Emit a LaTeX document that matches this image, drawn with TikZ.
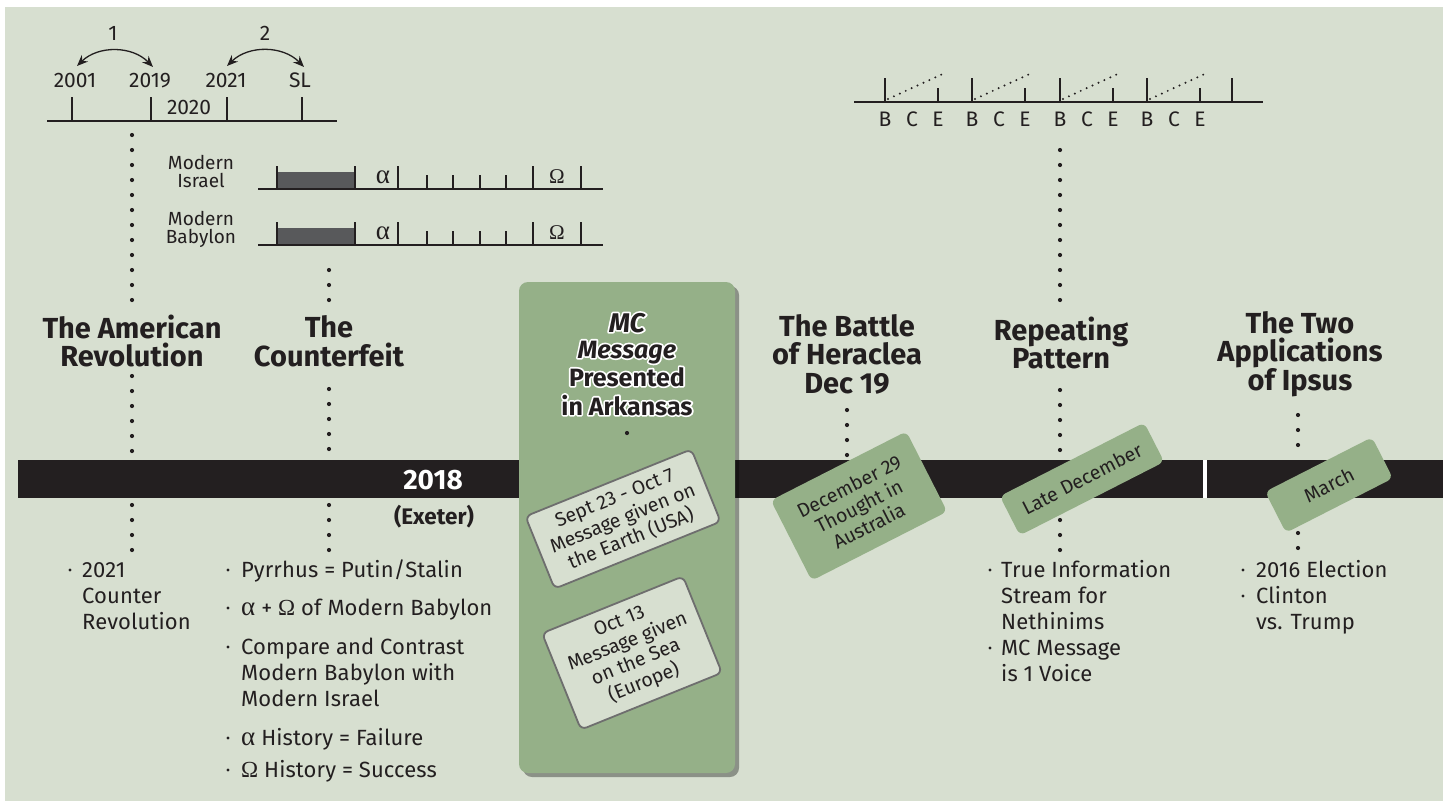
\documentclass[tikz,border=0pt]{standalone}
\usepackage{fontspec}
\setmainfont{Fira Sans}
\newfontfamily\grk{Liberation Serif}
\usetikzlibrary{arrows.meta}
\definecolor{bg}{HTML}{D7DFD0}
\definecolor{grn}{HTML}{95B088}
\definecolor{ink}{HTML}{231F20}
\definecolor{dbox}{HTML}{58595B}
\definecolor{edge}{HTML}{6E6E6E}
\newcommand\fsz[2]{\fontsize{#1}{#2}\selectfont}
\newcommand\halo[1]{\leavevmode\rlap{\special{pdf:literal direct 1 Tr 3.4 w 1 j}\textcolor{white}{#1}\special{pdf:literal direct 0 Tr}}#1}
\begin{document}
\begin{tikzpicture}[x=1pt,y=-1pt,
  txt/.style={inner sep=0pt,text=ink},
  head/.style={txt,font=\fsz{29}{28.5}\bfseries,align=center},
  body/.style={txt,font=\fsz{22}{26}\addfontfeature{LetterSpace=0.5},align=left,anchor=north west},
  small/.style={txt,font=\fsz{21}{21},anchor=base},
  lbl/.style={txt,font=\fsz{19}{19},anchor=base},
  dotline/.style={draw=ink,line width=4.2pt,line cap=round,dash pattern=on 0pt off 15pt},
  axis/.style={draw=ink,line width=2pt},
  tk/.style={draw=ink,line width=1.2pt},
  tkb/.style={draw=ink,line width=2.4pt},
  bul/.style={circle,fill=ink,inner sep=0pt,minimum size=3.4pt},
  glabel/.style={rectangle,rounded corners=6pt,fill=grn,rotate=27,align=center,font=\fsz{19.5}{22},text=ink,inner sep=0pt},
  plabel/.style={rectangle,rounded corners=6pt,fill=bg,draw=edge,line width=1.8pt,rotate=22,align=center,font=\fsz{19.5}{22},text=ink,inner sep=0pt},
  garr/.style={draw=ink,line width=1.3pt,{Stealth[length=11pt,width=9pt]}-{Stealth[length=11pt,width=9pt]}}
]
\useasboundingbox (0,0) rectangle (1443,801);
\fill[bg] (5,7) rectangle (1443,801);

% ---------- top-left timeline ----------
\coordinate (ta) at (47,121); \coordinate (tb) at (337,121);
\draw[axis] (ta) -- (tb);
\foreach \n/\x in {t1/72,t2/151,t3/227,t4/302}{
  \coordinate (\n a) at (\x,97); \coordinate (\n b) at (\x,121);
  \draw[tk] (\n a) -- (\n b);}
\node[small] (y2001) at (75,87) {2001};
\node[small] (y2019) at (150,87) {2019};
\node[small] (y2021) at (226,87) {2021};
\node[small] (ysl) at (300,87) {SL};
\node[small] (y2020) at (189,114) {2020};
\node[small] (n1) at (113,40) {1};
\node[small] (n2) at (265,40) {2};
\coordinate (a1l) at (77,66); \coordinate (a1r) at (153,67);
\coordinate (a2l) at (227,66); \coordinate (a2r) at (304,67);
\draw[garr] (a1l) to[bend left=45] (a1r);
\draw[garr] (a2l) to[bend left=45] (a2r);

% ---------- Modern Israel / Babylon ----------
\foreach \r/\yy/\na/\nb in {isr/189/Modern/Israel,bab/245/Modern/Babylon}{
  \node[lbl] (\r m) at (201,\yy-20) {\na};
  \node[lbl] (\r n) at (201,\yy-2) {\nb};
  \coordinate (\r L) at (258,\yy); \coordinate (\r R) at (603,\yy);
  \fill[dbox] (277,\yy-17) rectangle (355,\yy);
  \draw[axis] (\r L) -- (\r R);
  \foreach \x in {277,355}{\draw[tk] (\x,\yy-23) -- (\x,\yy);}
  \foreach \x in {398,533,581}{\draw[tkb] (\x,\yy-23) -- (\x,\yy);}
  \foreach \x in {427,453,480,506}{\draw[tk] (\x,\yy-14) -- (\x,\yy);}
  \node[txt,font=\grk\fsz{27}{27},anchor=base] (\r a) at (383,\yy-6) {α};
  \node[txt,font=\grk\fsz{21}{21},anchor=base] (\r o) at (557,\yy-6) {Ω};
}

% ---------- top-right BCE ----------
\coordinate (ba) at (854,102); \coordinate (bb) at (1263,102);
\draw[axis] (ba) -- (bb);
\foreach \i/\x in {1/885,2/972,3/1060,4/1147}{
  \draw[tkb] (\x,78) -- (\x,102);
  \draw[tk] (\x+53,88) -- (\x+53,102);
  \coordinate (ds\i) at (\x+3,99); \coordinate (de\i) at (\x+62,72);
  \draw[ink,line width=2.2pt,line cap=round,dash pattern=on 0pt off 6.5pt] (ds\i) -- (de\i);
  \node[small] (B\i) at (\x,126) {B};
  \node[small] (C\i) at (\x+27,126) {C};
  \node[small] (E\i) at (\x+53,126) {E};
}
\draw[tkb] (1232,78) -- (1232,102);

% ---------- black bar ----------
\fill[ink] (18,460) rectangle (1443,498);
\fill[white] (1203,460) rectangle (1207,498);
\node[txt,font=\fsz{28}{28}\bfseries,text=white] (y2018) at (433,480) {2018};
\node[txt,font=\fsz{22.5}{22}\bfseries] (exeter) at (434,517) {(Exeter)};

% ---------- MC box ----------
\fill[black,opacity=0.35,rounded corners=9pt] (523,286) rectangle (739,777);
\fill[grn,rounded corners=9pt] (519,282) rectangle (735,773);
\node[txt,font=\fsz{27}{27}\bfseries\itshape,anchor=base] (mc1) at (627,332) {\halo{MC}};
\node[txt,font=\fsz{25}{25}\bfseries\itshape,anchor=base] (mc2) at (627,358) {\halo{Message}};
\node[txt,font=\fsz{25}{25}\bfseries,anchor=base] (mc3) at (627,386) {\halo{Presented}};
\node[txt,font=\fsz{25}{25}\bfseries,anchor=base] (mc4) at (627,415) {\halo{in Arkansas}};
\coordinate (mcd1) at (627,433); \coordinate (mcd2) at (627,448);
\draw[dotline] (mcd1) -- (mcd2);

% ---------- headings ----------
\node[head] (amrev) at (132,341) {The American\\Revolution};
\node[head] (counterf) at (329,341) {The\\Counterfeit};
\node[head] (heraclea) at (847,354) {The Battle\\of Heraclea\\Dec 19};
\node[head] (repeat) at (1061,343) {Repeating\\Pattern};
\node[head] (ipsus) at (1300,354) {The Two\\Applications\\of Ipsus};

% ---------- dotted connectors ----------
\foreach \n/\x/\ya/\yb in {ar1/132/135/300, ar2/132/376/451, ar3/132/505/550,
    cf1/329/270/300, cf2/329/389/449, cf3/329/505/550,
    he1/847/410/455,
    rp1/1060/150/300, rp2/1060/390/450, rp3/1060/505/550,
    ip1/1298/415/460, ip2/1298/518/548}{
  \coordinate (\n a) at (\x,\ya); \coordinate (\n b) at (\x,\yb);
  \draw[dotline] (\n a) -- (\n b);}

% ---------- rotated labels ----------
\node[plabel,minimum width=179pt,minimum height=78pt] (sept) at (623,519)
  {Sept 23 - Oct 7\\Message given on\\the Earth (USA)};
\node[plabel,minimum width=152pt,minimum height=104pt] (oct13) at (632,653)
  {Oct 13\\Message given\\on the Sea\\(Europe)};
\node[glabel,minimum width=152pt,minimum height=90pt] (dec29) at (859,506)
  {December 29\\Thought in\\Australia};
\node[glabel,minimum width=162pt,minimum height=44pt] (late) at (1082,479) {Late December};
\node[glabel,minimum width=120pt,minimum height=46pt] (march) at (1329,485) {March};

% ---------- bottom lists ----------
\node[bul] (b1) at (70,570) {};
\node[body] (l1) at (82,558.8) {\strut 2021\\Counter\\Revolution};
\node[bul] (b2) at (228,570) {};
\node[body] (l2) at (241,558.8) {\strut Pyrrhus = Putin/Stalin};
\node[bul] (b3) at (228,608) {};
\node[body] (l3) at (241,596.8) {\strut{\grk\fsz{27}{26}α} + {\grk\fsz{23}{26}Ω} of Modern Babylon};
\node[bul] (b4) at (228,647) {};
\node[body] (l4) at (241,635.8) {\strut Compare and Contrast\\Modern Babylon with\\Modern Israel};
\node[bul] (b5) at (228,738) {};
\node[body] (l5) at (241,726.8) {\strut{\grk\fsz{27}{26}α} History = Failure};
\node[bul] (b6) at (228,770) {};
\node[body] (l6) at (241,758.8) {\strut{\grk\fsz{23}{26}Ω} History = Success};
\node[bul] (b7) at (990,570) {};
\node[body] (l7) at (1001,558.8) {\strut True Information\\Stream for\\Nethinims};
\node[bul] (b8) at (990,648) {};
\node[body] (l8) at (1001,636.8) {\strut MC Message\\is 1 Voice};
\node[bul] (b9) at (1243,570) {};
\node[body] (l9) at (1256,558.8) {\strut 2016 Election};
\node[bul] (b10) at (1243,596) {};
\node[body] (l10) at (1256,584.8) {\strut Clinton\\vs. Trump};
\end{tikzpicture}
\end{document}
